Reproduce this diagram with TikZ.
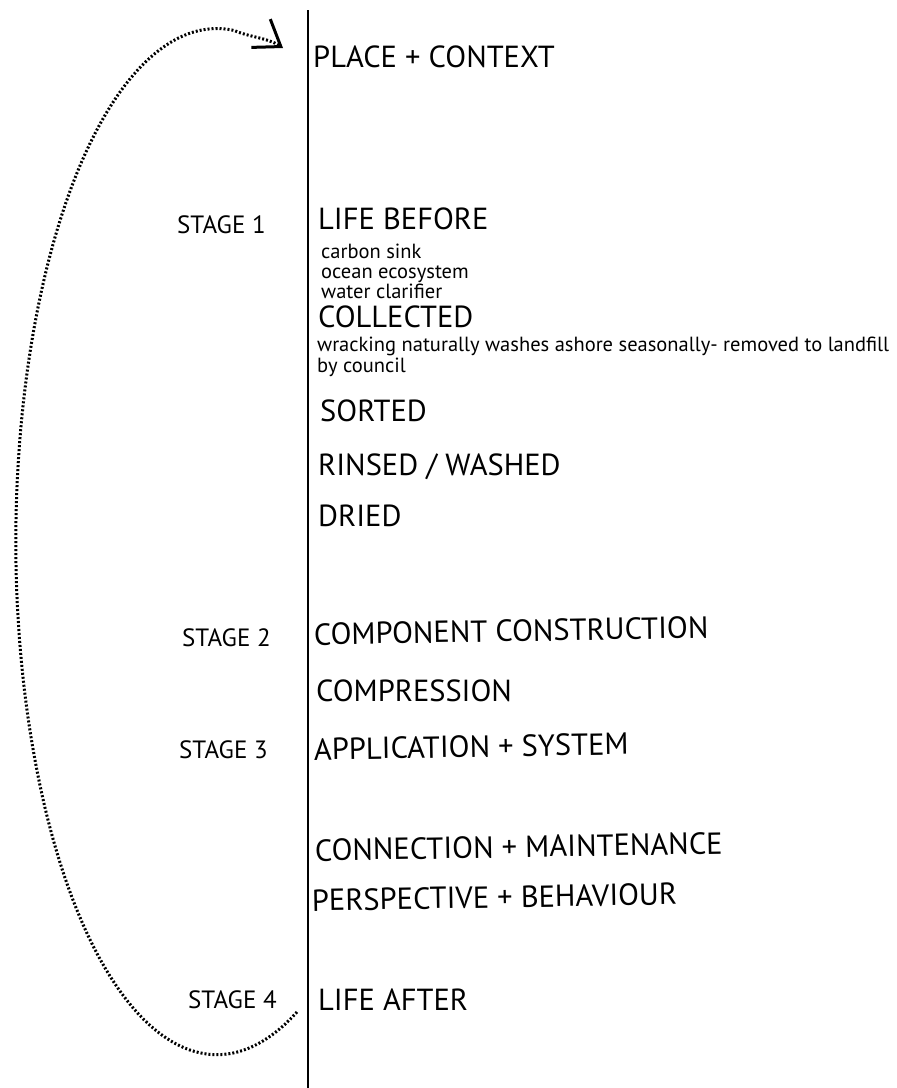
\documentclass[tikz,border=0pt]{standalone}
\usepackage{fontspec}
\setmainfont{PT Sans}
\usetikzlibrary{arrows.meta}

\begin{document}
\begin{tikzpicture}[x=1pt,y=-1pt,
    phase/.style={anchor=base west,inner sep=0pt,font=\fontsize{30.5}{36}\selectfont},
    stage/.style={anchor=base west,inner sep=0pt,font=\fontsize{25}{30}\selectfont},
    note/.style={anchor=base west,inner sep=0pt,font=\fontsize{20.5}{24}\selectfont},
    cycleline/.style={line width=3pt,dash pattern=on 2pt off 2pt,
      -{Straight Barb[length=24pt,width=34pt,line width=3pt]}}]
      \useasboundingbox (0,0) rectangle (897,1088);

      % timeline
      \coordinate (top) at (308,10);
      \coordinate (bottom) at (308,1088);
      \draw[line width=2.5pt] (top) -- (bottom);

      \node[phase] (place) at (313,67) {PLACE + CONTEXT};

      \node[stage] (s1) at (177,233) {STAGE 1};
      \node[phase] (before) at (318,229) {LIFE BEFORE};
      \node[note] (sink) at (321,258) {carbon sink};
      \node[note] (ocean) at (321,278) {ocean ecosystem};
      \node[note] (clear) at (321,298) {water clarifier};
      \node[phase] (collected) at (318,327) {COLLECTED};
      \node[note] (wrack) at (317,351) {wracking naturally washes ashore seasonally- removed to landfill};
      \node[note] (council) at (317,372) {by council};
      \node[phase] (sorted) at (320,421) {SORTED};
      \node[phase] (rinsed) at (318,475) {RINSED / WASHED};
      \node[phase] (dried) at (318,526) {DRIED};

      \node[stage] (s2) at (182,646) {STAGE 2};
      \node[phase,rotate=1] (component) at (314,645) {COMPONENT CONSTRUCTION};
      \node[phase] (compression) at (316,701) {COMPRESSION};

      \node[stage] (s3) at (179,758) {STAGE 3};
      \node[phase,rotate=1] (application) at (314,760) {APPLICATION + SYSTEM};
      \node[phase,rotate=1] (connection) at (315,861) {CONNECTION + MAINTENANCE};
      \node[phase,rotate=1] (perspective) at (312,911) {PERSPECTIVE + BEHAVIOUR};

      \node[stage] (s4) at (188,1008) {STAGE 4};
      \node[phase] (after) at (318,1010) {LIFE AFTER};

      % loop back to the start
      \coordinate (from) at (297,1012);
      \coordinate (to) at (283,48);
      \draw[cycleline] (from) arc[start angle=66.5,end angle=275,x radius=201,y radius=513]
        .. controls (249,37) and (268,38) .. (to);
    \end{tikzpicture}
\end{document}
